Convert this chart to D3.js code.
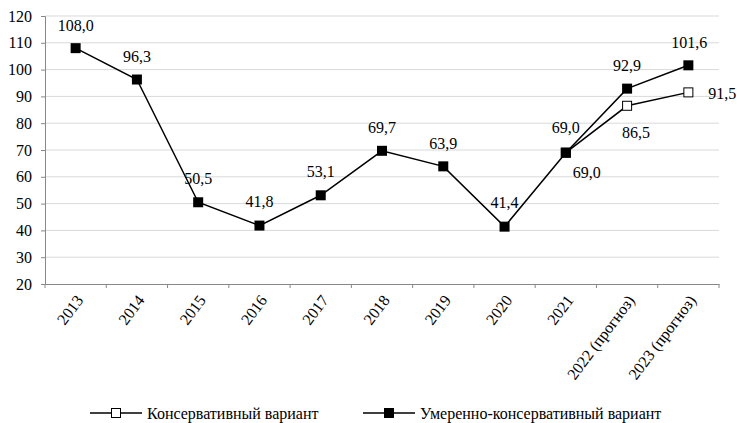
<!DOCTYPE html>
<html><head><meta charset="utf-8">
<script src="https://cdn.jsdelivr.net/npm/d3@7"></script>
</head><body style="margin:0;background:#fff"><svg id="c" width="737" height="423" style="display:block"></svg>
<script>
const categories = ["2013","2014","2015","2016","2017","2018","2019","2020","2021","2022 (прогноз)","2023 (прогноз)"];
const moderate = [108.0, 96.3, 50.5, 41.8, 53.1, 69.7, 63.9, 41.4, 69.0, 92.9, 101.6];
const conservative = [null, null, null, null, null, null, null, null, 69.0, 86.5, 91.5];
const yTicks = [20,30,40,50,60,70,80,90,100,110,120];
const seriesNames = ["Консервативный вариант", "Умеренно-консервативный вариант"];

const FONT = "'Liberation Serif'";
const svg = d3.select("#c");
const L = 45, R = 719, T = 16, B = 284;
const x = d3.scaleBand().domain(categories).range([L, R]);
const y = d3.scaleLinear().domain([20, 120]).range([B, T]);
const cx = c => x(c) + x.bandwidth()/2;
const fmt = v => v.toFixed(1).replace(".", ",");

// grid
svg.append("g").selectAll("line").data(yTicks.slice(1)).join("line")
  .attr("x1", L).attr("x2", R).attr("y1", d => y(d)).attr("y2", d => y(d))
  .attr("stroke", "#d9d9d9").attr("stroke-width", 1);

// y axis
const ya = svg.append("g").attr("transform", `translate(${L},0)`)
  .call(d3.axisLeft(y).tickValues(yTicks).tickSize(4).tickPadding(9).tickFormat(d => d));
ya.select(".domain").attr("stroke", "#888");
ya.selectAll(".tick line").attr("stroke", "#888");
ya.selectAll("text").style("font-size", "16px").style("font-family", FONT).attr("fill", "#000");

// x axis
const xa = svg.append("g").attr("transform", `translate(0,${B})`)
  .call(d3.axisBottom(x).tickSize(0).tickFormat(""));
xa.select(".domain").attr("stroke", "#888");
svg.append("g").selectAll("line").data(categories.concat([null])).join("line")
  .attr("x1", (d,i) => L + i*x.bandwidth()).attr("x2", (d,i) => L + i*x.bandwidth())
  .attr("y1", B).attr("y2", B+4).attr("stroke", "#888");
svg.append("g").selectAll("text").data(categories).join("text")
  .attr("transform", d => `translate(${cx(d)+4},${B+13}) rotate(-53)`)
  .attr("text-anchor", "end").attr("dy", "0.35em")
  .style("font-size", "16px").style("font-family", FONT).text(d => d);

const line = d3.line().defined(d => d.v != null).x(d => cx(d.c)).y(d => y(d.v));
const md = categories.map((c,i) => ({c, v: moderate[i]}));
const cd = categories.map((c,i) => ({c, v: conservative[i]}));

svg.append("path").datum(cd).attr("d", line).attr("fill", "none").attr("stroke", "#000").attr("stroke-width", 1.5);
svg.append("path").datum(md).attr("d", line).attr("fill", "none").attr("stroke", "#000").attr("stroke-width", 1.5);

svg.append("g").selectAll("rect").data(cd.filter(d => d.v != null)).join("rect")
  .attr("x", d => cx(d.c)-4.5).attr("y", d => y(d.v)-4.5).attr("width", 9).attr("height", 9)
  .attr("fill", "#fff").attr("stroke", "#000").attr("stroke-width", 1);
svg.append("g").selectAll("rect").data(md).join("rect")
  .attr("x", d => cx(d.c)-5).attr("y", d => y(d.v)-5).attr("width", 10).attr("height", 10)
  .attr("fill", "#000");

// labels
const modOff = [[0,-23],[0,-23],[0,-24],[0,-24],[0,-24],[0,-23],[0,-23],[0,-24],[0,-25],[0,-23],[1,-23]];
svg.append("g").selectAll("text").data(md).join("text")
  .attr("x", (d,i) => cx(d.c)+modOff[i][0]).attr("y", (d,i) => y(d.v)+modOff[i][1])
  .attr("text-anchor", "middle").attr("dy", "0.35em")
  .style("font-size", "16px").style("font-family", FONT).text(d => fmt(d.v));
const conOff = {8:[21,20,"middle"],9:[9,27,"middle"],10:[20,1,"start"]};
svg.append("g").selectAll("text").data(cd.map((d,i)=>({...d,i})).filter(d => d.v != null)).join("text")
  .attr("x", d => cx(d.c)+conOff[d.i][0]).attr("y", d => y(d.v)+conOff[d.i][1])
  .attr("text-anchor", d => conOff[d.i][2]).attr("dy", "0.35em")
  .style("font-size", "16px").style("font-family", FONT).text(d => fmt(d.v));

// legend
const lg = [{x:90, filled:false, name:seriesNames[0]},{x:363, filled:true, name:seriesNames[1]}];
const ly = 413;
lg.forEach(o => {
  svg.append("line").attr("x1", o.x).attr("x2", o.x+52).attr("y1", ly).attr("y2", ly).attr("stroke", "#000").attr("stroke-width", 1.5);
  if (o.filled) svg.append("rect").attr("x", o.x+21).attr("y", ly-5).attr("width", 10).attr("height", 10).attr("fill", "#000");
  else svg.append("rect").attr("x", o.x+21.5).attr("y", ly-4.5).attr("width", 9).attr("height", 9).attr("fill", "#fff").attr("stroke", "#000");
  svg.append("text").attr("x", o.x+57).attr("y", ly).attr("dy", "0.35em")
    .style("font-size", "16px").style("font-family", FONT).text(o.name);
});
</script></body></html>
